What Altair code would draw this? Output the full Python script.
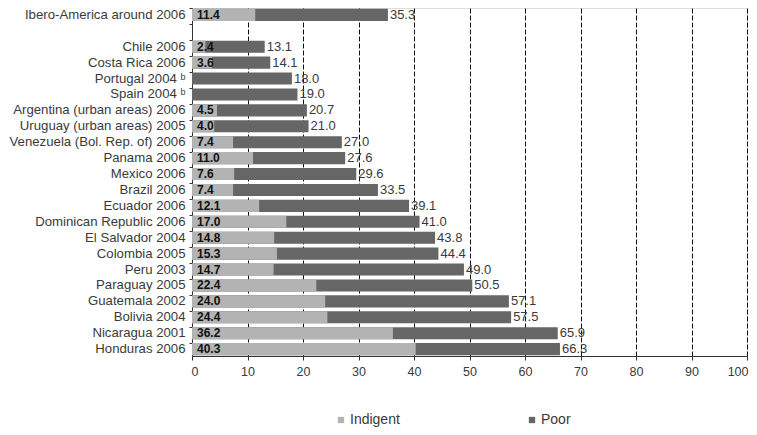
import altair as alt
import pandas as pd

categories = [
    "Ibero-America around 2006", " ",
    "Chile 2006", "Costa Rica 2006", "Portugal 2004 ᵇ", "Spain 2004 ᵇ",
    "Argentina (urban areas) 2006", "Uruguay (urban areas) 2005",
    "Venezuela (Bol. Rep. of) 2006", "Panama 2006", "Mexico 2006",
    "Brazil 2006", "Ecuador 2006", "Dominican Republic 2006",
    "El Salvador 2004", "Colombia 2005", "Peru 2003", "Paraguay 2005",
    "Guatemala 2002", "Bolivia 2004", "Nicaragua 2001", "Honduras 2006",
]
indigent = [11.4, None, 2.4, 3.6, None, None, 4.5, 4.0, 7.4, 11.0, 7.6, 7.4,
            12.1, 17.0, 14.8, 15.3, 14.7, 22.4, 24.0, 24.4, 36.2, 40.3]
poor = [35.3, None, 13.1, 14.1, 18.0, 19.0, 20.7, 21.0, 27.0, 27.6, 29.6, 33.5,
        39.1, 41.0, 43.8, 44.4, 49.0, 50.5, 57.1, 57.5, 65.9, 66.3]
x_ticks = [0, 10, 20, 30, 40, 50, 60, 70, 80, 90, 100]
series = ["Indigent", "Poor"]
colors = ["#b3b3b3", "#666666"]

rows = []
for c, p in zip(categories, poor):
    if p is not None:
        rows.append({"cat": c, "series": "Poor", "value": p})
for c, i in zip(categories, indigent):
    if i is not None:
        rows.append({"cat": c, "series": "Indigent", "value": i})
bars_df = pd.DataFrame(rows)

lab_df = pd.DataFrame({"cat": categories, "ind": indigent, "poor": poor})
ind_lab = lab_df.dropna(subset=["ind"]).copy()
ind_lab["txt"] = ind_lab["ind"].map(lambda v: f"{v:.1f}")
ind_lab["zero"] = 0
poor_lab = lab_df.dropna(subset=["poor"]).copy()
poor_lab["txt"] = poor_lab["poor"].map(lambda v: f"{v:.1f}")

FONT = "Liberation Sans"
TXT = "#3a3a3a"

y_enc = alt.Y(
    "cat:N",
    sort=categories,
    scale=alt.Scale(domain=categories, paddingInner=0.24, paddingOuter=0.05),
    axis=alt.Axis(
        title=None, labelFont=FONT, labelFontSize=13.2, labelColor=TXT,
        labelPadding=4, tickSize=3, tickColor="#333", domainColor="#333",
        bandPosition=0, labelLimit=400,
    ),
)

x_scale = alt.Scale(domain=[0, 100], nice=False)

bars = alt.Chart(bars_df).mark_bar().encode(
    x=alt.X(
        "value:Q", stack=None, scale=x_scale,
        axis=alt.Axis(
            title=None, values=x_ticks, labelFont=FONT, labelFontSize=12.5,
            labelColor=TXT, tickSize=4, tickColor="#333", domainColor="#333",
            labelPadding=5, grid=True, gridColor="#111", gridDash=[5, 2],
            gridWidth=1, labelFlush=True, labelFlushOffset=1,
        ),
    ),
    y=y_enc,
    color=alt.Color(
        "series:N",
        scale=alt.Scale(domain=series, range=colors),
        legend=alt.Legend(
            title=None, orient="none", direction="horizontal",
            legendX=142, legendY=405, symbolType="square", symbolSize=40,
            symbolStrokeWidth=0, labelFont=FONT, labelFontSize=14,
            labelColor=TXT, columnPadding=125, labelOffset=2,
        ),
    ),
)

ind_text = alt.Chart(ind_lab).mark_text(
    align="left", baseline="middle", dx=5, font=FONT, fontSize=12,
    fontWeight="bold", color="#111",
).encode(x=alt.X("zero:Q", scale=x_scale), y=alt.Y("cat:N", sort=categories), text="txt:N")

poor_text = alt.Chart(poor_lab).mark_text(
    align="left", baseline="middle", dx=2, font=FONT, fontSize=13,
    color=TXT,
).encode(x=alt.X("poor:Q", scale=x_scale), y=alt.Y("cat:N", sort=categories), text="txt:N")

chart = alt.layer(bars, ind_text, poor_text).properties(
    width=555, height=348,
    autosize=alt.AutoSizeParams(type="none"),
    padding={"left": 184, "top": 0, "right": 2, "bottom": 71},
).configure_view(stroke=None).configure(background="white")

chart.save("out.html", embed_options={"renderer": "svg", "actions": False})
